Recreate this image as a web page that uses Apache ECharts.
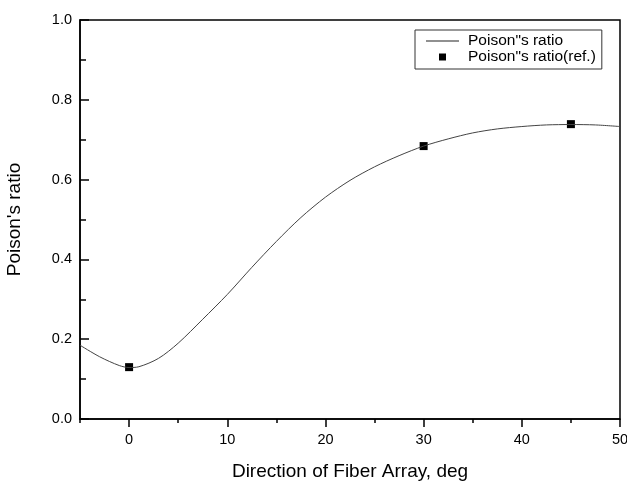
<!DOCTYPE html>
<html>
<head>
<meta charset="utf-8">
<script src="https://cdn.jsdelivr.net/npm/echarts@6/dist/echarts.min.js"></script>
<style>
  html, body { margin: 0; padding: 0; background: #fff; }
  #main { width: 627px; height: 482px; }
</style>
</head>
<body>
<div id="main"></div>
<script>
// fitted curve
var curveX = [-5, -3, -1, 0, 1, 3, 5, 7.5, 10, 12.5, 15, 17.5, 20, 22.5, 25, 27.5, 30, 32.5, 35, 37.5, 40, 42.5, 45, 47.5, 50];
var curveY = [0.185, 0.156, 0.134, 0.129, 0.131, 0.152, 0.19, 0.25, 0.312, 0.38, 0.445, 0.505, 0.556, 0.598, 0.632, 0.66, 0.684, 0.702, 0.717, 0.727, 0.733, 0.737, 0.738, 0.737, 0.733];

// reference points
var refX = [0, 30, 45];
var refY = [0.13, 0.684, 0.739];

var xMajor = [0, 10, 20, 30, 40, 50];
var xMinor = [-5, 5, 15, 25, 35, 45];

var font = "'Liberation Sans', Arial, sans-serif";

var curveData = curveX.map(function (x, i) { return [x, curveY[i]]; });
var refData = refX.map(function (x, i) { return [x, refY[i]]; });

var chart = echarts.init(document.getElementById("main"));

var option = {
  backgroundColor: "#fff",
  animation: false,
  textStyle: { fontFamily: font },
  grid: {
    left: 80, right: 7, top: 20, bottom: 63,
    outerBoundsMode: "none", containLabel: false,
    show: true, borderColor: "#000", borderWidth: 1.5, backgroundColor: "transparent"
  },
  legend: {
    left: 415, top: 30,
    orient: "vertical",
    itemWidth: 33, itemHeight: 7, itemGap: 0,
    padding: [3, 6, 4, 11],
    borderColor: "#333", borderWidth: 1,
    textStyle: { fontSize: 15.5, lineHeight: 13, color: "#000", fontFamily: font, padding: [0, 0, 0, 4] },
    data: [
      { name: 'Poison"s ratio', icon: "path://M0,0 H33 V1 H0 Z", itemStyle: { color: "#222" } },
      { name: 'Poison"s ratio(ref.)', icon: "path://M0,0 H1 V1 H0 Z", itemStyle: { color: "#000", opacity: 1 } }
    ]
  },
  xAxis: [
    {
      type: "value", min: -5, max: 50,
      name: "Direction of Fiber Array, deg",
      nameLocation: "middle", nameGap: 43,
      nameTextStyle: { fontSize: 19, color: "#000", fontFamily: font },
      axisLine: { onZero: false, lineStyle: { color: "#000", width: 1.5 } },
      axisTick: { length: 8, lineStyle: { color: "#000", width: 1.5 }, customValues: xMajor },
      axisLabel: { fontSize: 14.5, color: "#000", margin: 13, customValues: xMajor },
      splitLine: { show: false }
    },
    {
      type: "value", min: -5, max: 50, position: "bottom",
      axisLine: { show: false, onZero: false },
      axisTick: { length: 4, lineStyle: { color: "#000", width: 1.5 }, customValues: xMinor },
      axisLabel: { show: false },
      splitLine: { show: false }
    }
  ],
  yAxis: {
    type: "value", min: 0, max: 1, interval: 0.2,
    name: "Poison's ratio",
    nameLocation: "middle", nameGap: 56, nameRotate: 90,
    nameTextStyle: { fontSize: 19, color: "#000", fontFamily: font },
    axisLine: { onZero: false, lineStyle: { color: "#000", width: 1.5 } },
    axisTick: { inside: true, length: 9, lineStyle: { color: "#000", width: 1.5 } },
    minorTick: { show: true, splitNumber: 2, length: 6, lineStyle: { color: "#000", width: 1.5 } },
    axisLabel: { fontSize: 14.5, color: "#000", margin: 8, formatter: function (v) { return v.toFixed(1); } },
    splitLine: { show: false }
  },
  series: [
    {
      name: 'Poison"s ratio',
      type: "line",
      data: curveData,
      smooth: 0.3,
      symbol: "none",
      lineStyle: { color: "#444", width: 1 },
      itemStyle: { color: "#444" }
    },
    {
      name: 'Poison"s ratio(ref.)',
      type: "scatter",
      data: refData,
      symbol: "rect",
      symbolSize: 8,
      itemStyle: { color: "#000", opacity: 1 }
    }
  ]
};

chart.setOption(option);
</script>
</body>
</html>
